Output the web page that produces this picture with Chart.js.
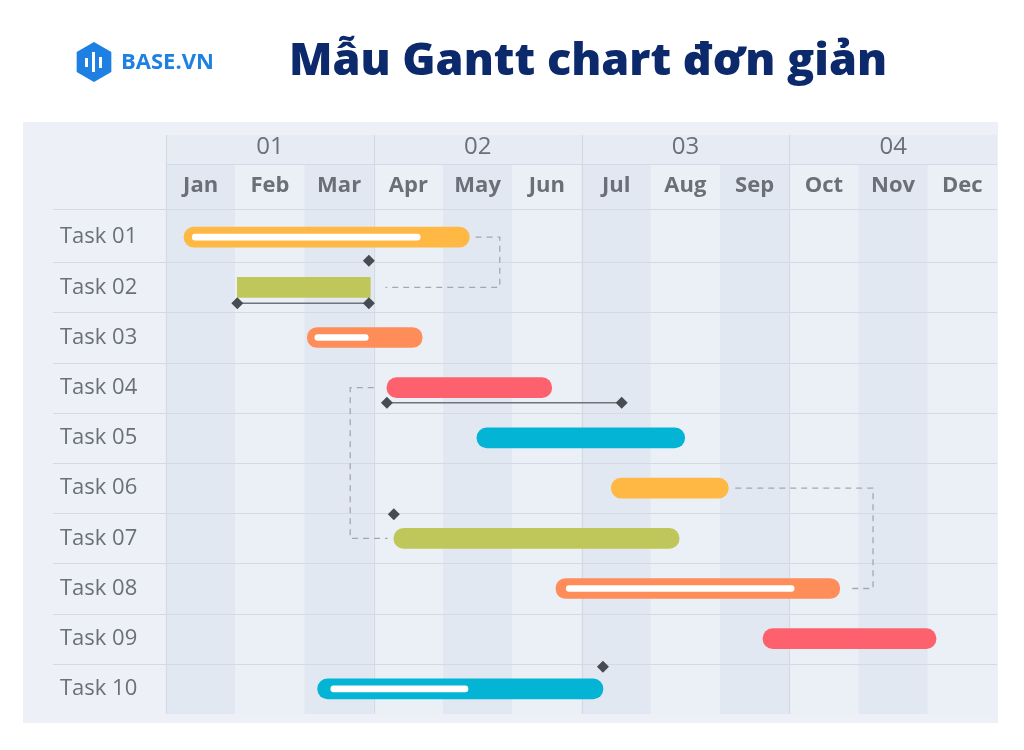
<!DOCTYPE html>
<html><head><meta charset="utf-8">
<script src="https://cdn.jsdelivr.net/npm/chart.js@4/dist/chart.umd.min.js"></script>
<style>html,body{margin:0;padding:0;background:#fff}#w{width:1024px;height:750px}</style>
</head><body><div id="w"><canvas id="c"></canvas></div>
<script>
const tasks = ["Task 01","Task 02","Task 03","Task 04","Task 05","Task 06","Task 07","Task 08","Task 09","Task 10"];
const months = ["Jan","Feb","Mar","Apr","May","Jun","Jul","Aug","Sep","Oct","Nov","Dec"];
const quarters = ["01","02","03","04"];
const taskStart = [0.26,1.03,2.04,3.19,4.49,6.43,3.29,5.63,8.62,2.19];
const taskEnd   = [4.38,2.95,3.70,5.57,7.49,8.12,7.41,9.73,11.12,6.31];
const progStart = [0.38,null,2.15,null,null,null,null,5.78,null,2.38];
const progEnd   = [3.67,null,2.92,null,null,null,null,9.07,null,4.36];
const taskColors = ["#feb843","#bfc75a","#fe8d59","#fd616d","#04b4d5","#feb843","#bfc75a","#fe8d59","#fd616d","#04b4d5"];
// milestones: [monthValue, rowValue]
const milestones = [[2.93,0.47],[1.03,1.32],[2.93,1.32],[3.19,3.3],[6.58,3.3],[3.29,5.52],[6.31,8.56]];
// milestone spans drawn as thin lines: [x1,x2,row]
const spans = [[1.03,2.93,1.32],[3.19,6.58,3.3]];
// dependency links: polyline points [month,row]
const links = [
  [[4.47,0],[4.82,0],[4.82,1],[3.17,1]],
  [[3.0,3],[2.66,3],[2.66,6],[3.2,6]],
  [[8.22,5],[10.21,5],[10.21,7],[9.85,7]]
];
const data = {
  labels: tasks,
  datasets: [
    {label:"Progress", data: tasks.map((t,i)=>progStart[i]==null?null:[progStart[i],progEnd[i]]),
     backgroundColor:"#ffffff", barThickness:6, borderRadius:3, borderSkipped:false, grouped:false, order:0},
    {label:"Tasks", data: tasks.map((t,i)=>[taskStart[i],taskEnd[i]]),
     backgroundColor: taskColors, barThickness:20, borderRadius:(ctx)=>ctx.dataIndex===1?0:10,
     borderSkipped:false, grouped:false, order:1}
  ]
};
const FONT = "'Open Sans', Lato, sans-serif";
const bgPlugin = {
  id:'bg',
  beforeDraw(chart){
    const {ctx, chartArea:a, scales:{x,y}} = chart;
    ctx.save();
    ctx.fillStyle="#fff"; ctx.fillRect(0,0,chart.width,chart.height);
    ctx.fillStyle="#edf1f7"; ctx.fillRect(23,122,975,601);
    for(let i=0;i<12;i++){
      const x0=x.getPixelForValue(i), x1=x.getPixelForValue(i+1);
      ctx.fillStyle = i%2===0 ? "#e2e8f1" : "#ebf0f7";
      ctx.fillRect(x0,165,x1-x0,a.bottom-165);
    }
    ctx.fillStyle="#e7ecf4"; ctx.fillRect(x.getPixelForValue(0),135,a.right-x.getPixelForValue(0),30);
    ctx.strokeStyle="#d3dae5"; ctx.lineWidth=1.2;
    ctx.beginPath(); ctx.moveTo(x.getPixelForValue(0),164.5); ctx.lineTo(a.right,164.5);
    ctx.moveTo(53,209.5); ctx.lineTo(a.right,209.5);
    for(let r=1;r<tasks.length;r++){ const yy=Math.round(y.getPixelForValue(r-0.5))+0.5; ctx.moveTo(53,yy); ctx.lineTo(a.right,yy);}
    for(let q=0;q<4;q++){ const xx=Math.round(x.getPixelForValue(q*3))+0.5; ctx.moveTo(xx,135); ctx.lineTo(xx,a.bottom);}
    ctx.stroke();
    ctx.fillStyle="#6b6f78"; ctx.font="400 24px "+FONT; ctx.textAlign="center"; ctx.textBaseline="middle";
    quarters.forEach((q,i)=>ctx.fillText(q, x.getPixelForValue(i*3+1.5), 147));
    const cx=94, cy=62, R=20;
    ctx.fillStyle="#1d80e2"; ctx.beginPath();
    for(let k=0;k<6;k++){const ang=Math.PI/6+k*Math.PI/3; const px=cx+R*Math.cos(ang), py=cy+R*Math.sin(ang); k?ctx.lineTo(px,py):ctx.moveTo(px,py);}
    ctx.closePath(); ctx.fill();
    ctx.fillStyle="#fff"; ctx.fillRect(85,58,3,9); ctx.fillRect(92,52,3,20); ctx.fillRect(99,57,3,11);
    ctx.fillStyle="#1d80e2"; ctx.font="bold 22px "+FONT; ctx.textAlign="left"; ctx.fillText("BASE.VN",121,63);
    ctx.fillStyle="#0c2a6b"; ctx.font="800 45px "+FONT; ctx.textAlign="center"; ctx.fillText("Mẫu Gantt chart đơn giản",588,62);
    ctx.restore();
  },
  afterDatasetsDraw(chart){
    const {ctx, scales:{x,y}} = chart;
    ctx.save();
    ctx.strokeStyle="#a3a8b0"; ctx.lineWidth=1.3; ctx.setLineDash([6,5]);
    links.forEach(l=>{ctx.beginPath(); l.forEach((p,i)=>{const px=x.getPixelForValue(p[0]), py=y.getPixelForValue(p[1]); i?ctx.lineTo(px,py):ctx.moveTo(px,py);}); ctx.stroke();});
    ctx.setLineDash([]); ctx.strokeStyle="#6f737a"; ctx.lineWidth=1.5;
    spans.forEach(s=>{ctx.beginPath(); const py=y.getPixelForValue(s[2]); ctx.moveTo(x.getPixelForValue(s[0]),py); ctx.lineTo(x.getPixelForValue(s[1]),py); ctx.stroke();});
    ctx.fillStyle="#474b52";
    milestones.forEach(m=>{const px=x.getPixelForValue(m[0]), py=y.getPixelForValue(m[1]); ctx.beginPath(); ctx.moveTo(px,py-6); ctx.lineTo(px+6,py); ctx.lineTo(px,py+6); ctx.lineTo(px-6,py); ctx.closePath(); ctx.fill();});
    ctx.restore();
  }
};
new Chart(document.getElementById('c'), {
  type:'bar', data,
  options:{
    indexAxis:'y', responsive:true, maintainAspectRatio:false, animation:false,
    layout:{padding:{left:60,right:27,top:0,bottom:36}},
    plugins:{legend:{display:false}, tooltip:{enabled:false}},
    scales:{
      x:{type:'linear', position:'top', min:0, max:12,
        afterBuildTicks:(s)=>{s.ticks=months.map((m,i)=>({value:i+0.5}));},
        afterFit:(s)=>{s.height=212;},
        ticks:{autoSkip:false, maxRotation:0, padding:5, color:"#6b6f78", font:{family:FONT,size:22,weight:'bold'},
          callback:(v)=>months[Math.floor(v)]},
        grid:{display:false}, border:{display:false}},
      y:{afterFit:(s)=>{s.width=106;},
        ticks:{crossAlign:'far', color:"#6b6f78", font:{family:FONT,size:22}},
        grid:{display:false}, border:{display:false}}
    }
  },
  plugins:[bgPlugin]
});
</script></body></html>
